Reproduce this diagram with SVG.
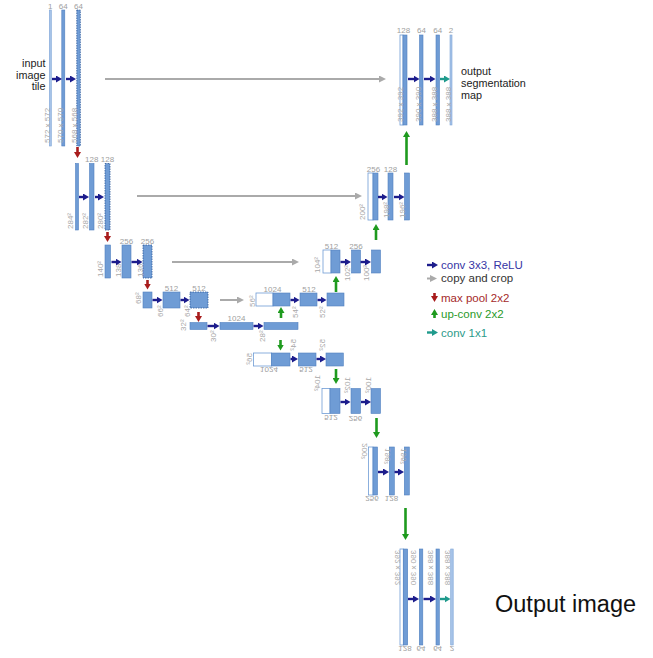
<svg xmlns="http://www.w3.org/2000/svg" width="653" height="658" viewBox="0 0 653 658">
<defs>
<style>
.b{fill:#6f9cd5;stroke:#5080c0;stroke-width:0.6}
.t{fill:#a6c3e8;stroke:#7fa6d8;stroke-width:0.6}
.d{fill:#6f9cd5;stroke:#2d5a9c;stroke-width:0.8;stroke-dasharray:1.5 1}
.w{fill:#fff;stroke:#6f9cd5;stroke-width:0.8}
text{font-family:"Liberation Sans",Arial,sans-serif}
.n{font-size:8px;fill:#a0a0a0;text-anchor:middle}
.r{font-size:8px;fill:#a8a8a8}
.cv{stroke:#1c1c8c;stroke-width:2.4;fill:none;marker-end:url(#mc)}
.tl{stroke:#1f9a8c;stroke-width:2.4;fill:none;marker-end:url(#mt)}
.cp{stroke:#aaaaaa;stroke-width:2;fill:none;marker-end:url(#mg)}
.mp{stroke:#a81c1c;stroke-width:2.6;fill:none;marker-end:url(#mr)}
.up{stroke:#1e9a1e;stroke-width:2.6;fill:none;marker-end:url(#mu)}
.lg{font-size:11.5px}
.tx{font-size:10.8px;fill:#222}
</style>
<marker id="mc" markerUnits="userSpaceOnUse" markerWidth="6" markerHeight="7" viewBox="0 0 6 7" refX="1" refY="3.5" orient="auto"><path d="M0,0L6,3.5L0,7z" fill="#1c1c8c"/></marker>
<marker id="mt" markerUnits="userSpaceOnUse" markerWidth="6" markerHeight="7" viewBox="0 0 6 7" refX="1" refY="3.5" orient="auto"><path d="M0,0L6,3.5L0,7z" fill="#1f9a8c"/></marker>
<marker id="mg" markerUnits="userSpaceOnUse" markerWidth="7" markerHeight="7" viewBox="0 0 7 7" refX="1" refY="3.5" orient="auto"><path d="M0,0L7,3.5L0,7z" fill="#aaaaaa"/></marker>
<marker id="mr" markerUnits="userSpaceOnUse" markerWidth="6" markerHeight="7" viewBox="0 0 6 7" refX="1" refY="3.5" orient="auto"><path d="M0,0L6,3.5L0,7z" fill="#a81c1c"/></marker>
<marker id="mu" markerUnits="userSpaceOnUse" markerWidth="6" markerHeight="7" viewBox="0 0 6 7" refX="1" refY="3.5" orient="auto"><path d="M0,0L6,3.5L0,7z" fill="#1e9a1e"/></marker>
</defs>
<rect width="653" height="658" fill="#fff"/>

<!-- level 1 left -->
<g id="L1a"><rect class="t" x="49.3" y="10" width="2" height="136"/><text class="n" x="50.3" y="9">1</text><text class="r" transform="translate(49.5,143) rotate(-90)">572 x 572</text></g>
<g id="L1b"><rect class="b" x="61.8" y="10" width="3" height="136"/><text class="n" x="63.3" y="9">64</text><text class="r" transform="translate(62.9,143) rotate(-90)">570 x 570</text></g>
<g id="L1c"><rect class="d" x="76.8" y="10" width="3.5" height="136"/><text class="n" x="78.5" y="9">64</text><text class="r" transform="translate(77,143) rotate(-90)">568 x 568</text></g>
<!-- level 2 left -->
<g id="L2a"><rect class="b" x="75.5" y="163.5" width="3" height="66.5"/><text class="r" transform="translate(72.9,229) rotate(-90)">284²</text></g>
<g id="L2b"><rect class="b" x="89.5" y="163.5" width="4.5" height="66.5"/><text class="n" x="91.7" y="161.5">128</text><text class="r" transform="translate(87.9,229) rotate(-90)">282²</text></g>
<g id="L2c"><rect class="d" x="105" y="163.5" width="5" height="66.5"/><text class="n" x="107.5" y="161.5">128</text><text class="r" transform="translate(102.9,229) rotate(-90)">280²</text></g>
<!-- level 3 left -->
<g id="L3a"><rect class="b" x="105" y="245" width="5.5" height="33"/><text class="r" transform="translate(102.9,277) rotate(-90)">140²</text></g>
<g id="L3b"><rect class="b" x="122" y="245" width="9" height="33"/><text class="n" x="126.5" y="244">256</text><text class="r" transform="translate(120.9,277) rotate(-90)">138²</text></g>
<g id="L3c"><rect class="d" x="143" y="245" width="9" height="33"/><text class="n" x="147.5" y="244">256</text><text class="r" transform="translate(142.9,277) rotate(-90)">136²</text></g>
<!-- level 4 left -->
<g id="L4a"><rect class="b" x="143" y="292" width="9" height="16"/><text class="r" transform="translate(140.5,304) rotate(-90)">68²</text></g>
<g id="L4b"><rect class="b" x="163" y="292" width="17" height="16"/><text class="n" x="171.5" y="290.5">512</text><text class="r" transform="translate(162.9,317) rotate(-90)">66²</text></g>
<g id="L4c"><rect class="d" x="190" y="292" width="18" height="16"/><text class="n" x="199" y="290.5">512</text><text class="r" transform="translate(189.5,317) rotate(-90)">64²</text></g>
<!-- level 5 -->
<g id="L5a"><rect class="b" x="190" y="322.5" width="17" height="7"/><text class="r" transform="translate(186,331) rotate(-90)">32²</text></g>
<g id="L5b"><rect class="b" x="220" y="322.5" width="33" height="7"/><text class="n" x="236.5" y="320.5">1024</text><text class="r" transform="translate(216,342) rotate(-90)">30²</text></g>
<g id="L5c"><rect class="b" x="264" y="322.5" width="34" height="7"/><text class="r" transform="translate(265,342) rotate(-90)">28²</text></g>
<!-- level 4 right -->
<g id="R4a"><rect class="w" x="256" y="293" width="17" height="13"/><rect class="b" x="273" y="293" width="17" height="13"/><text class="n" x="272.5" y="291.5">1024</text><text class="r" transform="translate(255,307) rotate(-90)">56²</text></g>
<g id="R4b"><rect class="b" x="300" y="293" width="17" height="13"/><text class="n" x="309" y="291.5">512</text><text class="r" transform="translate(298,318) rotate(-90)">54²</text></g>
<g id="R4c"><rect class="b" x="327" y="293" width="17" height="13"/><text class="r" transform="translate(325,318) rotate(-90)">52²</text></g>
<!-- level 3 right -->
<g id="R3a"><rect class="w" x="323" y="250" width="8" height="23"/><rect class="b" x="331" y="250" width="9" height="23"/><text class="n" x="331.5" y="248.5">512</text><text class="r" transform="translate(320,273) rotate(-90)">104²</text></g>
<g id="R3b"><rect class="b" x="351.5" y="250" width="9" height="23"/><text class="n" x="356" y="248.5">256</text><text class="r" transform="translate(350,281) rotate(-90)">102²</text></g>
<g id="R3c"><rect class="b" x="371.5" y="250" width="9" height="23"/><text class="r" transform="translate(369,281) rotate(-90)">100²</text></g>
<!-- level 2 right -->
<g id="R2a"><rect class="w" x="368" y="173" width="5" height="47"/><rect class="b" x="373" y="173" width="5" height="47"/><text class="n" x="373.5" y="171.5">256</text><text class="r" transform="translate(364.5,220) rotate(-90)">200²</text></g>
<g id="R2b"><rect class="b" x="388" y="173" width="5" height="47"/><text class="n" x="390.5" y="171.5">128</text><text class="r" transform="translate(388.5,218) rotate(-90)">198²</text></g>
<g id="R2c"><rect class="b" x="404.5" y="173" width="5" height="47"/><text class="r" transform="translate(404.8,218) rotate(-90)">196²</text></g>
<!-- level 1 right -->
<g id="R1a"><rect class="w" x="400" y="35" width="3" height="90"/><rect class="b" x="403" y="35" width="4" height="90"/><text class="n" x="403.5" y="33">128</text><text class="r" transform="translate(402.8,122) rotate(-90)">392 x 392</text></g>
<g id="R1b"><rect class="b" x="419.5" y="35" width="3.5" height="90"/><text class="n" x="421.5" y="33">64</text><text class="r" transform="translate(421,122) rotate(-90)">390 x 390</text></g>
<g id="R1c"><rect class="b" x="436" y="35" width="3.5" height="90"/><text class="n" x="437.8" y="33">64</text><text class="r" transform="translate(436.8,122) rotate(-90)">388 x 388</text></g>
<g id="R1d"><rect class="t" x="450" y="35" width="2" height="90"/><text class="n" x="451" y="33">2</text><text class="r" transform="translate(451,122) rotate(-90)">388 x 388</text></g>

<!-- mirrored lower part -->
<g id="MAa"><rect class="w" x="253.5" y="353" width="18" height="13"/><rect class="b" x="271.5" y="353" width="18.5" height="13"/><text class="n" transform="translate(269,367) scale(1,-1)">1024</text><text class="r" transform="translate(252,353) scale(1,-1) rotate(-90)">56²</text></g>
<g id="MAb"><rect class="b" x="298.3" y="353" width="17.7" height="13"/><text class="n" transform="translate(306,367) scale(1,-1)">512</text><text class="r" transform="translate(296,339) scale(1,-1) rotate(-90)">54²</text></g>
<g id="MAc"><rect class="b" x="326" y="353" width="17.3" height="13"/><text class="r" transform="translate(324.5,339) scale(1,-1) rotate(-90)">52²</text></g>
<g id="MBa"><rect class="w" x="322" y="388.5" width="8" height="25"/><rect class="b" x="330" y="388.5" width="10" height="25"/><text class="n" transform="translate(331,414.5) scale(1,-1)">512</text><text class="r" transform="translate(319.5,375) scale(1,-1) rotate(-90)">104²</text></g>
<g id="MBb"><rect class="b" x="351" y="388.5" width="9.5" height="25"/><text class="n" transform="translate(355.5,415.5) scale(1,-1)">256</text><text class="r" transform="translate(350,377) scale(1,-1) rotate(-90)">102²</text></g>
<g id="MBc"><rect class="b" x="371" y="388.5" width="9.5" height="25"/><text class="r" transform="translate(371,377) scale(1,-1) rotate(-90)">100²</text></g>
<g id="MCa"><rect class="w" x="368.5" y="447" width="4.5" height="48"/><rect class="b" x="373" y="447" width="4.5" height="48"/><text class="n" transform="translate(372,496) scale(1,-1)">256</text><text class="r" transform="translate(367,443) scale(1,-1) rotate(-90)">200²</text></g>
<g id="MCb"><rect class="b" x="389.3" y="447" width="5" height="48"/><text class="n" transform="translate(391.5,496) scale(1,-1)">128</text><text class="r" transform="translate(389.8,448) scale(1,-1) rotate(-90)">198²</text></g>
<g id="MCc"><rect class="b" x="404.3" y="447" width="5" height="48"/><text class="r" transform="translate(405.8,448) scale(1,-1) rotate(-90)">196²</text></g>
<g id="MDa"><rect class="w" x="400" y="549" width="3.3" height="96"/><rect class="b" x="403.3" y="549" width="4.4" height="96"/><text class="n" transform="translate(405,646) scale(1,-1)">128</text><text class="r" transform="translate(399.5,550) scale(1,-1) rotate(-90)">392 x 392</text></g>
<g id="MDb"><rect class="b" x="419.3" y="549" width="3.5" height="96"/><text class="n" transform="translate(421,646) scale(1,-1)">64</text><text class="r" transform="translate(416,550) scale(1,-1) rotate(-90)">390 x 390</text></g>
<g id="MDc"><rect class="b" x="436" y="549" width="3.3" height="96"/><text class="n" transform="translate(437.6,646) scale(1,-1)">64</text><text class="r" transform="translate(433,550) scale(1,-1) rotate(-90)">388 x 388</text></g>
<g id="MDd"><rect class="t" x="450.7" y="549" width="2.5" height="96"/><text class="n" transform="translate(452,646) scale(1,-1)">2</text><text class="r" transform="translate(449.5,550) scale(1,-1) rotate(-90)">388 x 388</text></g>

<g id="connectors">
<path class="cv" d="M52,79H57"/><path class="cv" d="M66,79H71"/>
<path class="cv" d="M79,197H84"/><path class="cv" d="M95,197H99"/>
<path class="cv" d="M111.5,262H116.5"/><path class="cv" d="M131.5,262H137.5"/>
<path class="cv" d="M152.5,300H157.5"/><path class="cv" d="M180.5,300H184.5"/>
<path class="cv" d="M207.5,326H214.5"/><path class="cv" d="M253.5,326H258.5"/>
<path class="cv" d="M290.5,300H294.5"/><path class="cv" d="M317.5,300H321.5"/>
<path class="cv" d="M340.5,262H346"/><path class="cv" d="M360.5,262H366"/>
<path class="cv" d="M378,197H382.5"/><path class="cv" d="M394,197H399.5"/>
<path class="cv" d="M408,79H414.5"/><path class="cv" d="M424,79H430.5"/><path class="tl" d="M440,79H445"/>
<path class="cv" d="M290.5,359H293"/><path class="cv" d="M316.5,359H321"/>
<path class="cv" d="M340.5,402H345.5"/><path class="cv" d="M361,402H366"/>
<path class="cv" d="M378,472H384"/><path class="cv" d="M394.5,472H399"/>
<path class="cv" d="M408,599H414"/><path class="cv" d="M423.5,599H431"/><path class="tl" d="M440,599H445.5"/>
<path class="cp" d="M105,79H380"/>
<path class="cp" d="M137,196H356"/>
<path class="cp" d="M172,262H293"/>
<path class="cp" d="M220,300H238"/>
<path class="mp" d="M77.5,147V153"/>
<path class="mp" d="M107.5,232V237"/>
<path class="mp" d="M147.5,280V284.5"/>
<path class="mp" d="M198.5,312V317"/>
<path class="up" d="M281,318V312"/>
<path class="up" d="M336,292V281"/>
<path class="up" d="M376,240V229"/>
<path class="up" d="M406.5,165V136"/>
<path class="up" d="M280.5,340V345.5"/>
<path class="up" d="M336,369V379"/>
<path class="up" d="M376.5,418V433"/>
<path class="up" d="M405.5,508V535"/>
</g>

<g id="legend">
<path class="cv" d="M427,265H433"/><text class="lg" x="441" y="269" fill="#3535a5">conv 3x3, ReLU</text>
<path class="cp" d="M427,278.5H431"/><text class="lg" x="441" y="282" fill="#333">copy and crop</text>
<path class="mp" d="M434.5,293V297"/><text class="lg" x="441" y="301.5" fill="#a52a2a">max pool 2x2</text>
<path class="up" d="M434.5,318V314"/><text class="lg" x="441" y="317.5" fill="#2a9a2a">up-conv 2x2</text>
<path class="tl" d="M427,332.5H433"/><text class="lg" x="441" y="336.5" fill="#2a9a8a">conv 1x1</text>
</g>

<g id="labels">
<text class="tx" text-anchor="end" x="45.5" y="67">input</text>
<text class="tx" text-anchor="end" x="45.5" y="78.5">image</text>
<text class="tx" text-anchor="end" x="45.5" y="90">tile</text>
<text class="tx" x="461" y="75">output</text>
<text class="tx" x="461" y="87">segmentation</text>
<text class="tx" x="461" y="98.5">map</text>
<text x="495" y="612" font-size="23.5" fill="#111">Output image</text>
</g>
</svg>
